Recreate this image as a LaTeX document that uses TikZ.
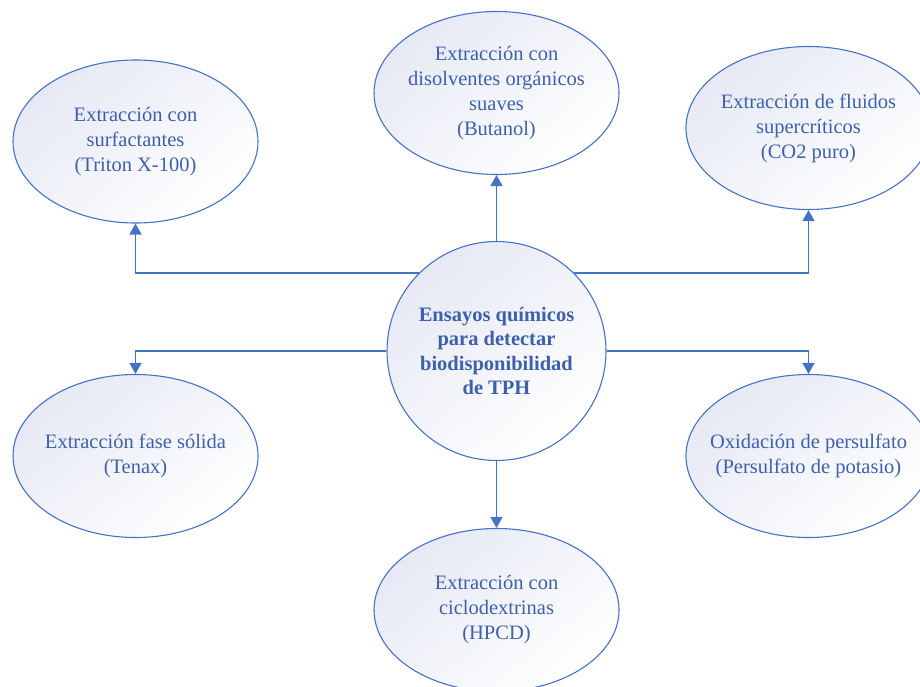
\documentclass[tikz,border=0pt]{standalone}
\usepackage{fontspec}
\setmainfont{Liberation Serif}
\usetikzlibrary{arrows.meta,shapes.geometric}

\definecolor{linkblue}{RGB}{68,114,196}
\definecolor{textblue}{RGB}{62,96,172}
\definecolor{shadetop}{RGB}{230,233,244}

\tikzset{
  bubble/.style={
    ellipse, draw=linkblue, line width=1.1pt,
    top color=shadetop, bottom color=white, shading angle=40,
    minimum width=245pt, minimum height=163pt, inner sep=0pt
  },
  bubbletext/.style={
    align=center, text=textblue, inner sep=0pt,
    font=\fontsize{20.5}{25}\selectfont
  },
  hub/.style={
    circle, draw=linkblue, line width=1.1pt,
    top color=shadetop, bottom color=white, shading angle=40,
    minimum size=219pt, inner sep=0pt
  },
  hubtext/.style={
    align=center, text=textblue, inner sep=0pt,
    font=\fontsize{20.5}{24.4}\selectfont\bfseries
  },
  link/.style={
    draw=linkblue, line width=1.4pt,
    -{Triangle[width=12pt,length=11pt]}
  }
}

\begin{document}
\begin{tikzpicture}[x=1pt,y=-1pt]
  \useasboundingbox (0,0) rectangle (920,686);
  \clip (0,0) rectangle (920,686);

  % central hub
  \node[hub, label={[hubtext]center:{Ensayos químicos\\para detectar\\biodisponibilidad\\de TPH}}] (c) at (496.5,351) {};

  % surrounding methods
  \node[bubble, label={[bubbletext]center:{Extracción con\\surfactantes\\(Triton X-100)}}] (tl) at (135.5,141.5) {};
  \node[bubble, label={[bubbletext]center:{Extracción con\\disolventes orgánicos\\suaves\\(Butanol)}}] (tc) at (496.5,93) {};
  \node[bubble, label={[bubbletext]center:{Extracción de fluidos\\supercríticos\\(CO2 puro)}}] (tr) at (808.5,128) {};
  \node[bubble, label={[bubbletext]center:{Extracción fase sólida\\(Tenax)}}] (ml) at (135.5,456) {};
  \node[bubble, label={[bubbletext]center:{Oxidación de persulfato\\(Persulfato de potasio)}}] (mr) at (808.5,456) {};
  \node[bubble, label={[bubbletext]center:{Extracción con\\ciclodextrinas\\(HPCD)}}] (bc) at (496.5,610) {};

  % connectors
  \draw[link] (c.north) -- (tc.south);
  \draw[link] (c.135) -| (tl.south);
  \draw[link] (c.45) -| (tr.south);
  \draw[link] (c.west) -| (ml.north);
  \draw[link] (c.east) -| (mr.north);
  \draw[link] (c.south) -- (bc.north);
\end{tikzpicture}
\end{document}
